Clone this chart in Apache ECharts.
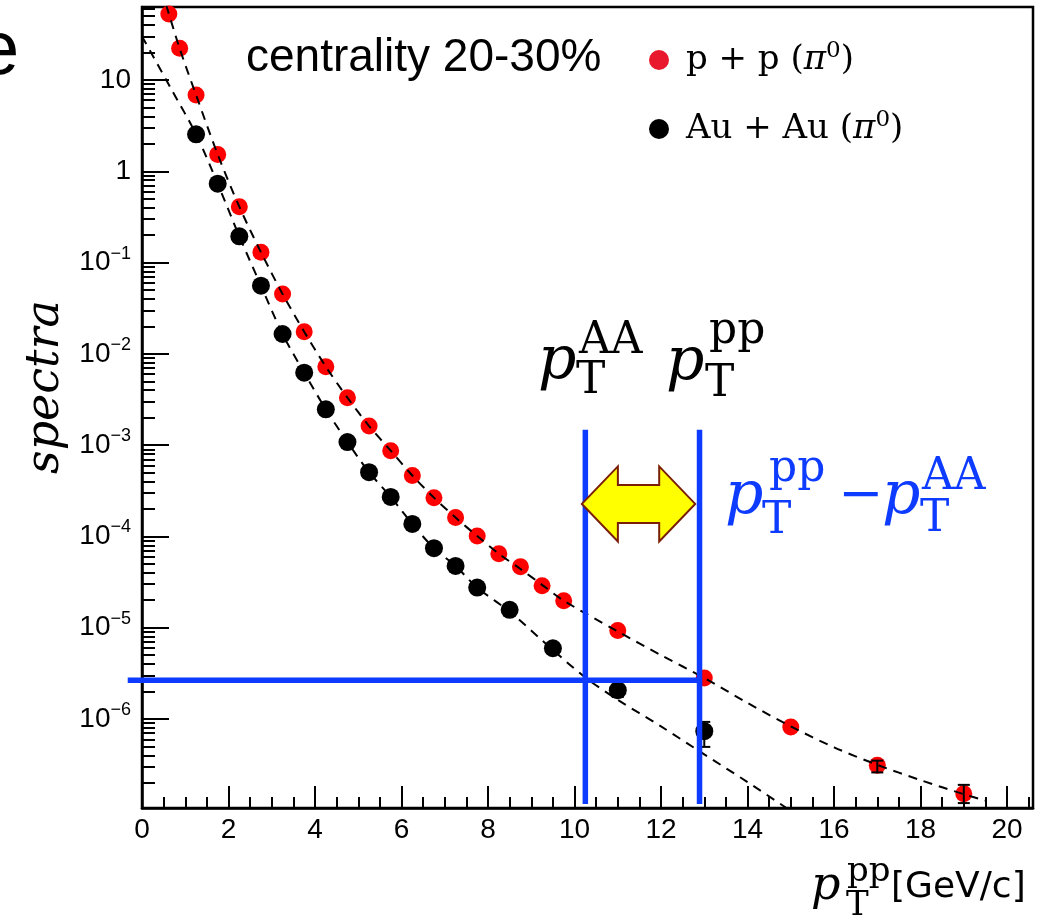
<!DOCTYPE html>
<html>
<head>
<meta charset="utf-8">
<script src="https://cdn.jsdelivr.net/npm/echarts@6/dist/echarts.min.js"></script>
<style>
html, body { margin: 0; padding: 0; background: #fff; }
#container { width: 1053px; height: 921px; }
</style>
</head>
<body>
<div id="container"></div>
<script>
// p+p pi0 points
var ppX = [0.62, 0.87, 1.25, 1.75, 2.25, 2.75, 3.25, 3.75, 4.25, 4.75, 5.25, 5.75, 6.25, 6.75, 7.25, 7.75, 8.25, 8.75, 9.25, 9.75, 11, 13, 15, 17, 19];
var ppY = [52.8, 22.2, 6.85, 1.53, 0.409, 0.130, 0.0453, 0.0175, 7.24e-3, 3.31e-3, 1.62e-3, 8.7e-4, 4.65e-4, 2.66e-4, 1.61e-4, 1.01e-4, 6.47e-5, 4.66e-5, 2.89e-5, 1.98e-5, 9.3e-6, 2.82e-6, 8.2e-7, 3.12e-7, 1.52e-7];
// Au+Au pi0 points
var aaX = [1.25, 1.75, 2.25, 2.75, 3.25, 3.75, 4.25, 4.75, 5.25, 5.75, 6.25, 6.75, 7.25, 7.75, 8.5, 9.5, 11, 13];
var aaY = [2.54, 0.731, 0.194, 0.0558, 0.0165, 6.22e-3, 2.47e-3, 1.08e-3, 5.05e-4, 2.71e-4, 1.37e-4, 7.43e-5, 4.75e-5, 2.75e-5, 1.57e-5, 5.96e-6, 2.07e-6, 7.35e-7];
// dashed fit curves
var ppFitX = [0.56, 0.87, 1.25, 1.75, 2.25, 2.75, 3.25, 3.75, 4.25, 4.75, 5.25, 5.75, 6.25, 6.75, 7.25, 7.75, 8.25, 8.75, 9.25, 9.75, 11, 12, 13, 14, 15, 16, 17, 18, 19, 19.5];
var ppFitY = [66, 22.2, 6.85, 1.53, 0.409, 0.130, 0.0453, 0.0175, 7.24e-3, 3.31e-3, 1.62e-3, 8.7e-4, 4.65e-4, 2.66e-4, 1.61e-4, 1.01e-4, 6.47e-5, 4.4e-5, 2.95e-5, 1.98e-5, 9.1e-6, 5.0e-6, 2.82e-6, 1.5e-6, 8.3e-7, 4.9e-7, 3.15e-7, 2.14e-7, 1.5e-7, 1.28e-7];
var aaFitX = [0, 0.7, 1.25, 1.75, 2.25, 2.75, 3.25, 3.75, 4.25, 4.75, 5.25, 5.75, 6.25, 6.75, 7.25, 7.75, 8.5, 9.5, 10.25, 11, 12, 13, 14, 14.9];
var aaFitY = [30, 7.6, 2.54, 0.731, 0.194, 0.0558, 0.0165, 6.22e-3, 2.47e-3, 1.08e-3, 5.05e-4, 2.71e-4, 1.37e-4, 7.43e-5, 4.75e-5, 2.75e-5, 1.5e-5, 5.7e-6, 2.85e-6, 1.62e-6, 8.3e-7, 4.1e-7, 2.04e-7, 1.06e-7];
// error bars that stick out of the markers
var errX = [11, 13, 17, 19];
var errLow = [1.74e-6, 4.95e-7, 2.6e-7, 1.2e-7];
var errHigh = [2.34e-6, 9.3e-7, 3.5e-7, 1.9e-7];
// blue guide lines: x1, y1, x2, y2
var guideLines = [
    [-0.33, 2.66e-6, 12.9, 2.66e-6],
    [10.25, 1.47e-3, 10.25, 1.17e-7],
    [12.89, 1.47e-3, 12.89, 1.17e-7]
];
// yellow double arrow: x from, x to, y
var arrowData = [[10.17, 12.79, 2.27e-4]];

// axis ticks
var xMajor = [0, 2, 4, 6, 8, 10, 12, 14, 16, 18, 20];
var xMinor = [0.5, 1, 1.5, 2.5, 3, 3.5, 4.5, 5, 5.5, 6.5, 7, 7.5, 8.5, 9, 9.5, 10.5, 11, 11.5, 12.5, 13, 13.5, 14.5, 15, 15.5, 16.5, 17, 17.5, 18.5, 19, 19.5, 20.5];
var yMajor = [1e-6, 1e-5, 1e-4, 1e-3, 1e-2, 1e-1, 1, 10];
var yMantissa = [2, 3, 4, 5, 6, 7, 8, 9];
var yDecades = [1e-7, 1e-6, 1e-5, 1e-4, 1e-3, 1e-2, 1e-1, 1, 10];
var yMinor = [];
yDecades.forEach(function (d) {
    yMantissa.forEach(function (m) { yMinor.push(+(m * d).toPrecision(3)); });
});

var BLUE = '#0d3bff';
var SERIF = 'DejaVu Serif';
var SANS = 'Liberation Sans';

function zip(a, b) {
    return a.map(function (v, i) { return [v, b[i]]; });
}

function txt(str, x, base, size, opt) {
    opt = opt || {};
    return {
        type: 'text', x: x, y: base - 0.35 * size, silent: true,
        style: {
            text: str, fontFamily: opt.family || SERIF, fontSize: size,
            fontStyle: opt.italic ? 'italic' : 'normal',
            fill: opt.color || '#000', align: opt.align || 'left', verticalAlign: 'middle'
        }
    };
}

function yLabel(v) {
    var e = Math.round(Math.log10(v));
    if (e === 1) return '{b|10}';
    if (e === 0) return '{b|1}';
    return '{b|10}{s|\u2212' + (-e) + '}';
}

var dom = document.getElementById('container');
var myChart = echarts.init(dom, null, { renderer: 'canvas' });

var gridBox = { left: 142, right: 20, top: 7, bottom: 113, outerBoundsMode: 'none' };
var tickStyle = { color: '#000', width: 2 };

var option = {
    animation: false,
    backgroundColor: '#fff',
    grid: [
        Object.assign({ show: true, borderColor: '#000', borderWidth: 2.5, backgroundColor: 'transparent' }, gridBox),
        Object.assign({ show: false }, gridBox)
    ],
    legend: {
        orient: 'vertical', left: 644, top: 35,
        itemWidth: 20, itemHeight: 20, itemGap: 32, icon: 'circle',
        selectedMode: false,
        data: [
            { name: 'p + p', itemStyle: { color: '#e8192c' } },
            { name: 'Au + Au', itemStyle: { color: '#000' } }
        ],
        formatter: function (name) {
            return '{f|' + name + ' (}{pi|\u03c0}{s|0}{t|)}';
        },
        textStyle: {
            color: '#000',
            rich: {
                f: { fontFamily: SERIF, fontSize: 34, lineHeight: 40, padding: [0, 0, 0, 12] },
                t: { fontFamily: SERIF, fontSize: 34, lineHeight: 40 },
                pi: { fontFamily: SERIF, fontStyle: 'italic', fontSize: 34, lineHeight: 40 },
                s: { fontFamily: SERIF, fontSize: 23, lineHeight: 30, verticalAlign: 'top' }
            }
        }
    },
    xAxis: [{
        gridIndex: 0, type: 'value', min: 0, max: 20.6,
        axisLine: { lineStyle: { color: '#000', width: 2.5 } },
        axisTick: { inside: true, length: 22, customValues: xMajor, lineStyle: tickStyle },
        axisLabel: { customValues: xMajor, margin: 8, fontSize: 28, fontFamily: SANS, color: '#000' },
        splitLine: { show: false }
    }, {
        gridIndex: 1, type: 'value', min: 0, max: 20.6,
        axisLine: { show: false },
        axisTick: { inside: true, length: 11, customValues: xMinor, lineStyle: tickStyle },
        axisLabel: { show: false },
        splitLine: { show: false }
    }],
    yAxis: [{
        gridIndex: 0, type: 'log', min: 1.06e-7, max: 63,
        axisLine: { lineStyle: { color: '#000', width: 2.5 } },
        axisTick: { inside: true, length: 27, customValues: yMajor, lineStyle: tickStyle },
        axisLabel: {
            customValues: yMajor, margin: 11, color: '#000', formatter: yLabel,
            rich: {
                b: { fontSize: 28, fontFamily: SANS, lineHeight: 36 },
                s: { fontSize: 18, fontFamily: SANS, lineHeight: 26, verticalAlign: 'top' }
            }
        },
        splitLine: { show: false }
    }, {
        gridIndex: 1, type: 'log', min: 1.06e-7, max: 63,
        axisLine: { show: false },
        axisTick: { inside: true, length: 13, customValues: yMinor, lineStyle: tickStyle },
        axisLabel: { show: false },
        splitLine: { show: false }
    }],
    series: [{
        name: 'p + p', type: 'scatter', xAxisIndex: 0, yAxisIndex: 0,
        data: zip(ppX, ppY), symbolSize: 17, itemStyle: { color: '#ff0000', opacity: 1 }, z: 2
    }, {
        name: 'Au + Au', type: 'scatter', xAxisIndex: 0, yAxisIndex: 0,
        data: zip(aaX, aaY), symbolSize: 18, itemStyle: { color: '#000', opacity: 1 }, z: 2
    }, {
        name: 'ppFit', type: 'line', xAxisIndex: 0, yAxisIndex: 0, silent: true,
        data: zip(ppFitX, ppFitY), smooth: 0.3, showSymbol: false, z: 3,
        lineStyle: { color: '#000', width: 2, type: [9, 7] }
    }, {
        name: 'aaFit', type: 'line', xAxisIndex: 0, yAxisIndex: 0, silent: true,
        data: zip(aaFitX, aaFitY), smooth: 0.3, showSymbol: false, z: 3,
        lineStyle: { color: '#000', width: 2, type: [9, 7] }
    }, {
        name: 'errors', type: 'custom', xAxisIndex: 0, yAxisIndex: 0, silent: true, z: 4,
        data: errX.map(function (x, i) { return [x, errLow[i], errHigh[i]]; }),
        encode: { x: 0, y: [1, 2] },
        renderItem: function (params, api) {
            var x = api.value(0);
            var lo = api.coord([x, api.value(1)]);
            var hi = api.coord([x, api.value(2)]);
            var cap = 6, st = { stroke: '#000', lineWidth: 2 };
            return {
                type: 'group', children: [
                    { type: 'line', shape: { x1: lo[0], y1: lo[1], x2: hi[0], y2: hi[1] }, style: st },
                    { type: 'line', shape: { x1: lo[0] - cap, y1: lo[1], x2: lo[0] + cap, y2: lo[1] }, style: st },
                    { type: 'line', shape: { x1: hi[0] - cap, y1: hi[1], x2: hi[0] + cap, y2: hi[1] }, style: st }
                ]
            };
        }
    }, {
        name: 'guides', type: 'custom', xAxisIndex: 0, yAxisIndex: 0, silent: true, z: 5, clip: false,
        data: guideLines,
        encode: { x: [0, 2], y: [1, 3] },
        renderItem: function (params, api) {
            var a = api.coord([api.value(0), api.value(1)]);
            var b = api.coord([api.value(2), api.value(3)]);
            return {
                type: 'line', shape: { x1: a[0], y1: a[1], x2: b[0], y2: b[1] },
                style: { stroke: BLUE, lineWidth: 5.5 }
            };
        }
    }, {
        name: 'arrow', type: 'custom', xAxisIndex: 0, yAxisIndex: 0, silent: true, z: 6,
        data: arrowData,
        encode: { x: [0, 1], y: 2 },
        renderItem: function (params, api) {
            var a = api.coord([api.value(0), api.value(2)]);
            var b = api.coord([api.value(1), api.value(2)]);
            var y = a[1], head = 36, hh = 37.5, sh = 19;
            var pts = [
                [a[0], y], [a[0] + head, y - hh], [a[0] + head, y - sh],
                [b[0] - head, y - sh], [b[0] - head, y - hh], [b[0], y],
                [b[0] - head, y + hh], [b[0] - head, y + sh],
                [a[0] + head, y + sh], [a[0] + head, y + hh]
            ];
            return {
                type: 'polygon', shape: { points: pts },
                style: { fill: '#ffff00', stroke: '#7a1e08', lineWidth: 2 }
            };
        }
    }],
    graphic: [
        txt('e', -23, 80, 76, { family: SANS }),
        txt('centrality 20-30%', 246, 74, 46, { family: SANS }),
        {
            type: 'text', x: 46, y: 387, rotation: Math.PI / 2, silent: true,
            style: { text: 'spectra', fontFamily: SERIF, fontStyle: 'italic', fontSize: 46, fill: '#000', align: 'center', verticalAlign: 'middle' }
        },
        // p_T^AA
        txt('p', 538, 383, 60, { italic: true }),
        txt('T', 576, 397, 44),
        txt('AA', 579, 357, 44),
        // p_T^pp
        txt('p', 666, 384, 60, { italic: true }),
        txt('T', 705, 400, 44),
        txt('pp', 709, 347, 44),
        // p_T^pp - p_T^AA in blue
        txt('p', 725, 518, 60, { italic: true, color: BLUE }),
        txt('T', 762, 537, 44, { color: BLUE }),
        txt('pp', 769, 485, 44, { color: BLUE }),
        txt('\u2212', 838, 516, 54, { color: BLUE }),
        txt('p', 882, 518, 60, { italic: true, color: BLUE }),
        txt('T', 920, 535, 44, { color: BLUE }),
        txt('AA', 922, 493, 44, { color: BLUE }),
        // x axis title
        txt('p', 811, 903, 46, { italic: true }),
        txt('T', 846, 918, 34),
        txt('pp', 847, 884, 34),
        txt('[GeV/c]', 891, 900, 36, { family: 'DejaVu Sans' })
    ]
};

myChart.setOption(option);
window.addEventListener('resize', myChart.resize);
</script>
</body>
</html>
